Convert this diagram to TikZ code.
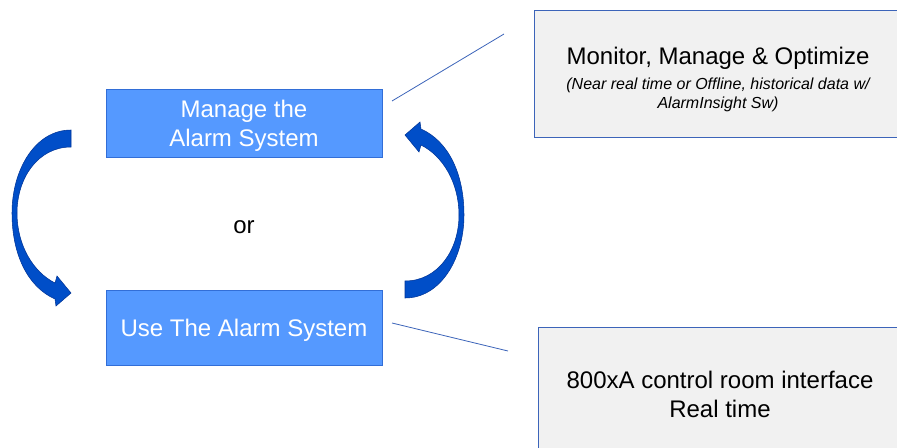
\documentclass[tikz,border=0pt]{standalone}
\usepackage{fontspec}
\setmainfont{Liberation Sans}
\usetikzlibrary{positioning}

\definecolor{boxblue}{RGB}{85,153,255}
\definecolor{boxline}{RGB}{50,110,215}
\definecolor{notegray}{RGB}{241,241,241}
\definecolor{noteline}{RGB}{60,100,185}
\definecolor{arrowblue}{RGB}{0,78,200}
\definecolor{arrowline}{RGB}{0,52,150}

\newcommand{\notefont}{\fontsize{12}{13.5}\selectfont\itshape}

\tikzset{
  phase/.style={draw=boxline, fill=boxblue, text=white, align=center, minimum width=207pt,
    inner sep=0pt, text depth=0pt, font=\fontsize{18}{21.75}\selectfont},
  note/.style={draw=noteline, fill=notegray, align=center, inner sep=0pt,
    font=\fontsize{18}{21.75}\selectfont},
  notetext/.style={align=center, inner sep=0pt, font=\fontsize{18}{21.75}\selectfont},
  leader/.style={draw=noteline, line width=0.6pt},
  bendarrow/.style={fill=arrowblue, draw=arrowline, line width=0.4pt},
}

\begin{document}
\begin{tikzpicture}[x=0.75pt, y=-0.75pt]
  \useasboundingbox (0,0) rectangle (897,447);
  \clip (0,0) rectangle (897,447);

  % the two ways of working
  \node[phase, minimum height=51pt] (manage) at (244,123) {Manage the\\Alarm System};
  \node[phase, minimum height=56.25pt] (use) at (244,327.5) {Use The Alarm System};
  \node[font=\fontsize{18}{21.75}\selectfont] (or) at (244,227) {or};

  % notes on the right
  \node[note, minimum width=276pt, minimum height=95.25pt] (monitor) at (718,73.5) {};
  \node[notetext, below=27.5pt of monitor.north] (monitor-text)
    {Monitor, Manage \& Optimize\\[-2.5pt]{\notefont (Near real time or Offline, historical data w/}\\[-7.5pt]{\notefont AlarmInsight Sw)}};
  \node[note, minimum width=273pt, minimum height=100.5pt] (console) at (720,394)
    {800xA control room interface\\Real time};

  \coordinate (manage-end) at (392,101);
  \coordinate (monitor-end) at (504,34);
  \coordinate (use-end) at (392,323);
  \coordinate (console-end) at (508,351);
  \draw[leader] (manage-end) -- (monitor-end);
  \draw[leader] (use-end) -- (console-end);

  % curved arrows
  \path[bendarrow] (71,130) .. controls (35,130) and (12,170) .. (12,213)
    .. controls (12,255) and (28,287) .. (55,299)
    -- (56,306) -- (71,293) -- (57,276) -- (55,283)
    .. controls (33,272) and (17,245) .. (17,213)
    .. controls (17,178) and (38,147) .. (71,147) -- cycle;
  \path[bendarrow, rotate around={180:(238,214)}] (71,130) .. controls (35,130) and (12,170) .. (12,213)
    .. controls (12,255) and (28,287) .. (55,299)
    -- (56,306) -- (71,293) -- (57,276) -- (55,283)
    .. controls (33,272) and (17,245) .. (17,213)
    .. controls (17,178) and (38,147) .. (71,147) -- cycle;
\end{tikzpicture}
\end{document}
